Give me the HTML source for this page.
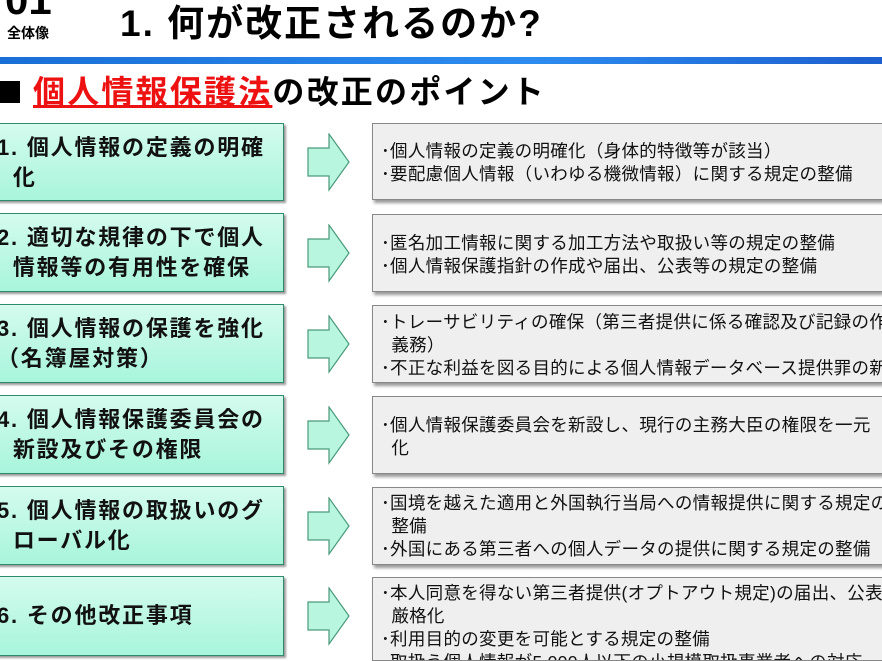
<!DOCTYPE html>
<html><head><meta charset="utf-8"><style>
html,body{margin:0;width:882px;height:661px;overflow:hidden;}
body{background:#fff;position:relative;font-family:"Liberation Sans","Noto Sans CJK JP",sans-serif;}
.a{position:absolute;}
.l{position:absolute;left:-10px;width:294px;background:linear-gradient(#d4fbee,#a8f5dc);border:1px solid #2e8a6a;box-shadow:2px 2px 2px #999;box-sizing:border-box;}
.l div{position:absolute;left:6px;font-weight:bold;font-size:22px;line-height:30px;color:#111;white-space:nowrap;letter-spacing:1.8px;}
.r{position:absolute;left:372px;width:510px;background:#efefef;border:1px solid #888;border-right:none;box-shadow:2px 3px 3px #999;box-sizing:border-box;font-size:17.5px;line-height:23px;color:#111;white-space:nowrap;padding-left:8px;letter-spacing:0.3px;overflow:hidden;}
.r p{margin:0;}
svg.ar{position:absolute;left:306px;width:46px;height:60px;}
</style></head><body>
<div class="a" style="left:5px;top:-24px;font-size:42px;font-weight:bold;">01</div>
<div class="a" style="left:7px;top:23px;font-size:14px;font-weight:bold;">全体像</div>
<div class="a" style="left:120px;top:-7px;font-size:37px;font-weight:bold;letter-spacing:2px;">1. 何が改正されるのか?</div>
<div class="a" style="left:0;top:57px;width:882px;height:7px;background:linear-gradient(90deg,#1a6fd6,#2c8cf0 60%,#1d5fcf);"></div>
<div class="a" style="left:0;top:81px;width:20px;height:22px;background:#000;"></div>
<div class="a" style="left:33px;top:70px;font-size:32px;font-weight:bold;line-height:44px;letter-spacing:2.2px;"><span style="color:#ee1111;text-decoration:underline;">個人情報保護法</span>の改正のポイント</div>

<div class="l" style="top:123px;height:78px;"><div style="top:9px">1. 個人情報の定義の明確<br>&nbsp;&nbsp;化</div></div>
<div class="l" style="top:213px;height:79px;"><div style="top:9px">2. 適切な規律の下で個人<br>&nbsp;&nbsp;情報等の有用性を確保</div></div>
<div class="l" style="top:304px;height:79px;"><div style="top:9px">3. 個人情報の保護を強化<br>（名簿屋対策）</div></div>
<div class="l" style="top:395px;height:79px;"><div style="top:9px">4. 個人情報保護委員会の<br>&nbsp;&nbsp;新設及びその権限</div></div>
<div class="l" style="top:486px;height:79px;"><div style="top:9px">5. 個人情報の取扱いのグ<br>&nbsp;&nbsp;ローバル化</div></div>
<div class="l" style="top:576px;height:80px;"><div style="top:24px">6. その他改正事項</div></div>

<svg class="ar" style="top:133px" viewBox="0 0 46 60"><path d="M2 15H23V1L43 29L23 57V43H2Z" fill="#b8f6e0" stroke="#4a9a7a" stroke-width="1.2"/></svg>
<svg class="ar" style="top:224px" viewBox="0 0 46 60"><path d="M2 15H23V1L43 29L23 57V43H2Z" fill="#b8f6e0" stroke="#4a9a7a" stroke-width="1.2"/></svg>
<svg class="ar" style="top:315px" viewBox="0 0 46 60"><path d="M2 15H23V1L43 29L23 57V43H2Z" fill="#b8f6e0" stroke="#4a9a7a" stroke-width="1.2"/></svg>
<svg class="ar" style="top:406px" viewBox="0 0 46 60"><path d="M2 15H23V1L43 29L23 57V43H2Z" fill="#b8f6e0" stroke="#4a9a7a" stroke-width="1.2"/></svg>
<svg class="ar" style="top:497px" viewBox="0 0 46 60"><path d="M2 15H23V1L43 29L23 57V43H2Z" fill="#b8f6e0" stroke="#4a9a7a" stroke-width="1.2"/></svg>
<svg class="ar" style="top:587px" viewBox="0 0 46 60"><path d="M2 15H23V1L43 29L23 57V43H2Z" fill="#b8f6e0" stroke="#4a9a7a" stroke-width="1.2"/></svg>

<div class="r" style="top:123px;height:77px;padding-top:16px;"><p>･個人情報の定義の明確化（身体的特徴等が該当）</p><p>･要配慮個人情報（いわゆる機微情報）に関する規定の整備</p></div>
<div class="r" style="top:214px;height:78px;padding-top:17px;"><p>･匿名加工情報に関する加工方法や取扱い等の規定の整備</p><p>･個人情報保護指針の作成や届出、公表等の規定の整備</p></div>
<div class="r" style="top:305px;height:78px;padding-top:5px;"><p>･トレーサビリティの確保（第三者提供に係る確認及び記録の作成</p><p>&nbsp;&nbsp;義務）</p><p>･不正な利益を図る目的による個人情報データベース提供罪の新設</p></div>
<div class="r" style="top:396px;height:78px;padding-top:17px;"><p>･個人情報保護委員会を新設し、現行の主務大臣の権限を一元</p><p>&nbsp;&nbsp;化</p></div>
<div class="r" style="top:487px;height:78px;padding-top:4px;"><p>･国境を越えた適用と外国執行当局への情報提供に関する規定の</p><p>&nbsp;&nbsp;整備</p><p>･外国にある第三者への個人データの提供に関する規定の整備</p></div>
<div class="r" style="top:577px;height:84px;padding-top:4px;"><p>･本人同意を得ない第三者提供(オプトアウト規定)の届出、公表等</p><p>&nbsp;&nbsp;厳格化</p><p>･利用目的の変更を可能とする規定の整備</p><p>･取扱う個人情報が5,000人以下の小規模取扱事業者への対応</p></div>
</body></html>
